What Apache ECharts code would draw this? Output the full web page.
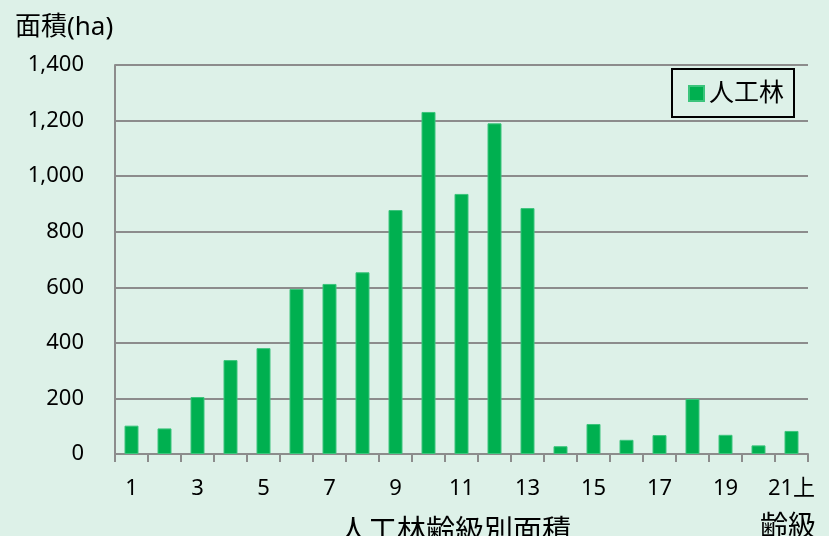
<!DOCTYPE html>
<html>
<head>
<meta charset="utf-8">
<script src="https://cdn.jsdelivr.net/npm/echarts@6/dist/echarts.min.js"></script>
<style>
  html, body { margin: 0; padding: 0; background: #DDF1E8; }
  #main { width: 829px; height: 536px; }
</style>
</head>
<body>
<div id="main"></div>
<script>
// 齢級
var categories = ['1','2','3','4','5','6','7','8','9','10','11','12','13','14','15','16','17','18','19','20','21上'];
// 人工林 面積(ha)
var areaValues = [102, 92, 205, 338, 381, 594, 612, 654, 878, 1231, 936, 1190, 885, 28, 108, 51, 68, 198, 69, 31, 83];

var font = '"Noto Sans", "Noto Sans CJK JP", sans-serif';

var option = {
    backgroundColor: '#DDF1E8',
    textStyle: { fontFamily: font, color: '#000' },
    title: [
        {
            text: '人工林齢級別面積',
            left: 334,
            top: 513,
            textStyle: { fontSize: 29, fontWeight: 'normal', color: '#000', fontFamily: font }
        },
        {
            text: '齢級',
            left: 755,
            top: 509,
            textStyle: { fontSize: 28, fontWeight: 'normal', color: '#000', fontFamily: font }
        }
    ],
    legend: {
        data: ['人工林'],
        left: 672,
        top: 69,
        orient: 'vertical',
        padding: [12, 10, 11, 16],
        borderColor: '#000',
        borderWidth: 2,
        itemWidth: 15,
        itemHeight: 15,
        icon: 'rect',
        textStyle: { fontSize: 25, color: '#000', fontFamily: font }
    },
    grid: { left: 115, right: 21, top: 65, bottom: 82, containLabel: false },
    xAxis: {
        type: 'category',
        data: categories,
        axisLine: { lineStyle: { color: '#8c8c8c', width: 2 } },
        axisTick: { show: true, interval: 0, length: 8, lineStyle: { color: '#8c8c8c', width: 2 } },
        axisLabel: { interval: 1, fontSize: 22, color: '#000', margin: 24, fontFamily: font },
        splitLine: { show: false }
    },
    yAxis: {
        type: 'value',
        name: '面積(ha)',
        nameLocation: 'end',
        nameGap: 24,
        nameTextStyle: { fontSize: 26, color: '#000', align: 'left', padding: [0, 0, 0, -100], fontFamily: font },
        min: 0,
        max: 1400,
        interval: 200,
        axisLine: { show: true, lineStyle: { color: '#8c8c8c', width: 2 } },
        axisTick: { show: false },
        axisLabel: {
            fontSize: 22, color: '#000', margin: 31, fontFamily: font,
            formatter: function (v) { return v.toLocaleString('en-US'); }
        },
        splitLine: { show: true, lineStyle: { color: '#8c8c8c', width: 2 } }
    },
    series: [
        {
            name: '人工林',
            type: 'bar',
            barWidth: 14,
            itemStyle: { color: '#00B050', borderColor: '#3cc47c', borderWidth: 1 },
            data: areaValues
        }
    ]
};

var myChart = echarts.init(document.getElementById('main'));
myChart.setOption(option);
</script>
</body>
</html>
